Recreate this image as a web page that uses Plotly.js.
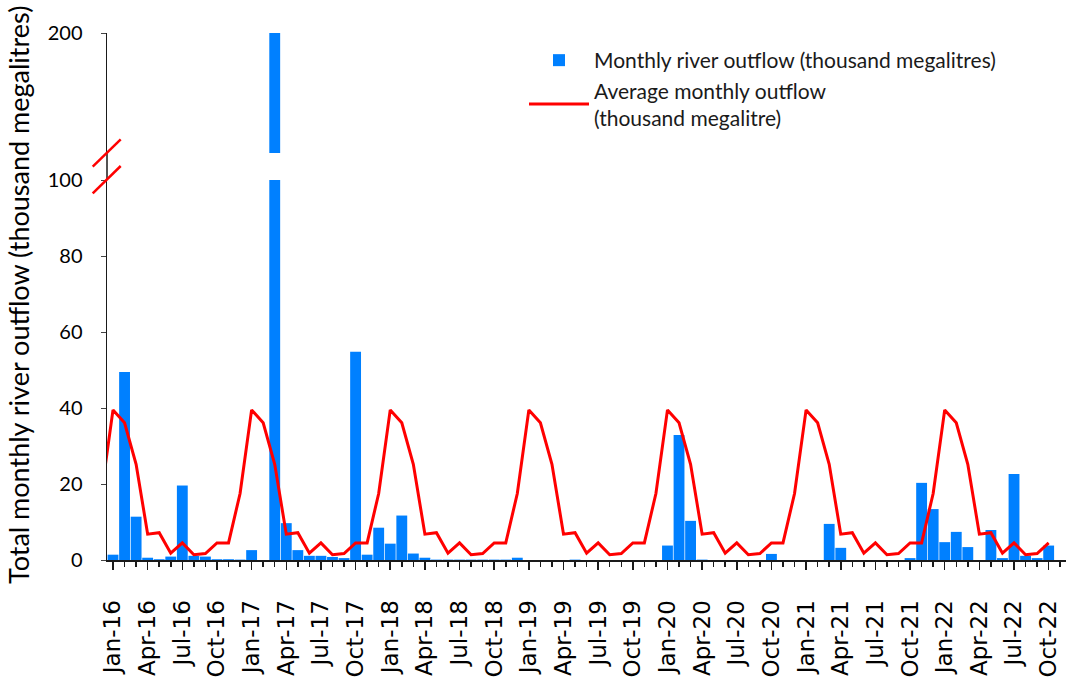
<!DOCTYPE html>
<html>
<head>
<meta charset="utf-8">
<script src="https://cdn.plot.ly/plotly-3.0.1.min.js"></script>
<style>html,body{margin:0;padding:0;background:#fff;}#chart{width:1066px;height:677px;}</style>
</head>
<body>
<div id="chart"></div>
<script>
// Months shown on the x axis (Jan-16 .. Oct-22)
const months = [
  "Jan-16","Feb-16","Mar-16","Apr-16","May-16","Jun-16","Jul-16","Aug-16","Sep-16","Oct-16","Nov-16","Dec-16",
  "Jan-17","Feb-17","Mar-17","Apr-17","May-17","Jun-17","Jul-17","Aug-17","Sep-17","Oct-17","Nov-17","Dec-17",
  "Jan-18","Feb-18","Mar-18","Apr-18","May-18","Jun-18","Jul-18","Aug-18","Sep-18","Oct-18","Nov-18","Dec-18",
  "Jan-19","Feb-19","Mar-19","Apr-19","May-19","Jun-19","Jul-19","Aug-19","Sep-19","Oct-19","Nov-19","Dec-19",
  "Jan-20","Feb-20","Mar-20","Apr-20","May-20","Jun-20","Jul-20","Aug-20","Sep-20","Oct-20","Nov-20","Dec-20",
  "Jan-21","Feb-21","Mar-21","Apr-21","May-21","Jun-21","Jul-21","Aug-21","Sep-21","Oct-21","Nov-21","Dec-21",
  "Jan-22","Feb-22","Mar-22","Apr-22","May-22","Jun-22","Jul-22","Aug-22","Sep-22","Oct-22"
];

// Monthly river outflow (thousand megalitres)
const outflow = [
  1.4, 49.5, 11.4, 0.6, 0.2, 0.9, 19.6, 1.1, 0.9, 0.2, 0.2, 0.1,
  2.6, 0.0, 200, 9.7, 2.6, 1.1, 1.1, 0.8, 0.5, 54.8, 1.4, 8.5,
  4.3, 11.7, 1.7, 0.6, 0.1, 0.1, 0.1, 0.1, 0.1, 0.1, 0.1, 0.6,
  0.0, 0.0, 0.0, 0.0, 0.1, 0.0, 0.0, 0.0, 0.0, 0.0, 0.0, 0.0,
  3.8, 32.9, 10.3, 0.1, 0.0, 0.0, 0.0, 0.0, 0.0, 1.6, 0.0, 0.0,
  0.0, 0.0, 9.5, 3.2, 0.0, 0.0, 0.0, 0.0, 0.0, 0.5, 20.3, 13.4,
  4.7, 7.4, 3.4, 0.0, 7.9, 0.5, 22.6, 1.1, 0.5, 3.8
];

// Average monthly outflow line (starts one month earlier, Dec-15, clipped at the axis)
const avgMonths = ["Dec-15"].concat(months);
const avgOutflow = [
  17.5,
  39.5, 36.1, 25.2, 6.8, 7.2, 1.8, 4.5, 1.4, 1.7, 4.5, 4.5, 17.5,
  39.5, 36.1, 25.2, 6.8, 7.2, 1.8, 4.5, 1.4, 1.7, 4.5, 4.5, 17.5,
  39.5, 36.1, 25.2, 6.8, 7.2, 1.8, 4.5, 1.4, 1.7, 4.5, 4.5, 17.5,
  39.5, 36.1, 25.2, 6.8, 7.2, 1.8, 4.5, 1.4, 1.7, 4.5, 4.5, 17.5,
  39.5, 36.1, 25.2, 6.8, 7.2, 1.8, 4.5, 1.4, 1.7, 4.5, 4.5, 17.5,
  39.5, 36.1, 25.2, 6.8, 7.2, 1.8, 4.5, 1.4, 1.7, 4.5, 4.5, 17.5,
  39.5, 36.1, 25.2, 6.8, 7.2, 1.8, 4.5, 1.4, 1.7, 4.5
];

// Tick labels on the x axis
const tickLabels = ["Jan-16","Apr-16","Jul-16","Oct-16","Jan-17","Apr-17","Jul-17","Oct-17",
  "Jan-18","Apr-18","Jul-18","Oct-18","Jan-19","Apr-19","Jul-19","Oct-19",
  "Jan-20","Apr-20","Jul-20","Oct-20","Jan-21","Apr-21","Jul-21","Oct-21",
  "Jan-22","Apr-22","Jul-22","Oct-22"];
const lowerTicks = [0, 20, 40, 60, 80, 100];
const upperTicks = [200];

const xIdx = months.map((m, i) => i);
const avgIdx = avgMonths.map((m, i) => i - 1);
const tickIdx = tickLabels.map(t => months.indexOf(t));

const BLUE = "#0080FF", RED = "#FF0000";
const W = 1066, H = 677, ML = 107, MR = 0, MT = 33, MB = 117;
const plotW = W - ML - MR, plotH = H - MT - MB;
const yBottomPx = H - MB;
const toPY = py => (yBottomPx - py) / plotH;
const toPX = px => (px - ML) / plotW;

const lowerTop = toPY(180);
const upperBottom = toPY(153);

const traces = [
  {
    type: "bar", x: xIdx, y: outflow, xaxis: "x", yaxis: "y",
    name: "Monthly river outflow (thousand megalitres)",
    marker: {color: BLUE}, hoverinfo: "x+y"
  },
  {
    type: "bar", x: xIdx, y: outflow, xaxis: "x", yaxis: "y2",
    name: "Monthly river outflow (thousand megalitres)", showlegend: false,
    marker: {color: BLUE}
  },
  {
    type: "scatter", mode: "lines", x: avgIdx, y: avgOutflow, xaxis: "x", yaxis: "y",
    name: "Average monthly outflow<br>(thousand megalitre)",
    line: {color: RED, width: 3}
  }
];

const axisFont = {family: "Lato, 'Open Sans', sans-serif", size: 20, color: "#000"};

const layout = {
  width: W, height: H,
  margin: {l: ML, r: MR, t: MT, b: MB, pad: 0},
  paper_bgcolor: "#fff", plot_bgcolor: "#fff",
  bargap: 0.06,
  showlegend: true,
  legend: {
    x: toPX(524), y: toPY(40), xanchor: "left", yanchor: "top",
    bgcolor: "rgba(0,0,0,0)", itemwidth: 60, tracegroupgap: 4,
    font: {family: "Lato, 'Open Sans', sans-serif", size: 21, color: "#1a1a1a"}
  },
  xaxis: {
    range: [-0.52, 82.5], showgrid: false, zeroline: false,
    showline: true, linecolor: "#1a1a1a", linewidth: 2,
    tickmode: "array", tickvals: tickIdx, ticktext: tickLabels,
    ticks: "outside", ticklen: 8, tickwidth: 1.5, tickcolor: "#1a1a1a",
    minor: {ticks: "outside", ticklen: 5, tickwidth: 1.5, tickcolor: "#1a1a1a", dtick: 1, tick0: 0, showgrid: false},
    tickangle: -90, ticklabelstandoff: 21,
    tickfont: {family: "DejaVu Sans, sans-serif", size: 23, color: "#000"}
  },
  yaxis: {
    domain: [0, lowerTop], range: [0, 100], showgrid: false, zeroline: false,
    showline: true, linecolor: "#1a1a1a", linewidth: 1.5,
    tickmode: "array", tickvals: lowerTicks,
    ticks: "outside", ticklen: 5, tickwidth: 1, tickcolor: "#444",
    ticklabelstandoff: 14, tickfont: axisFont
  },
  yaxis2: {
    domain: [upperBottom, 1], range: [200 - (153 - 33) / 3.8, 200], anchor: "x",
    showgrid: false, zeroline: false,
    showline: true, linecolor: "#1a1a1a", linewidth: 1.5,
    tickmode: "array", tickvals: upperTicks,
    ticks: "outside", ticklen: 5, tickwidth: 1, tickcolor: "#444",
    ticklabelstandoff: 14, tickfont: axisFont
  },
  shapes: [
    {type: "line", xref: "paper", yref: "paper", x0: 0, x1: 0, y0: lowerTop, y1: upperBottom,
     line: {color: "#1a1a1a", width: 1.5}},
    {type: "line", xref: "paper", yref: "paper", x0: toPX(92.7), y0: toPY(166.7), x1: toPX(120.7), y1: toPY(139.3),
     line: {color: RED, width: 2.5}},
    {type: "line", xref: "paper", yref: "paper", x0: toPX(92.7), y0: toPY(193.3), x1: toPX(120.7), y1: toPY(166),
     line: {color: RED, width: 2.5}}
  ],
  annotations: [
    {text: "Total monthly river outflow (thousand megalitres)", xref: "paper", yref: "paper",
     x: toPX(18), y: toPY(295), textangle: -90, showarrow: false, xanchor: "center", yanchor: "middle",
     font: {family: "Lato, 'Open Sans', sans-serif", size: 27, color: "#000"}}
  ]
};

Plotly.newPlot("chart", traces, layout, {displayModeBar: false, staticPlot: true});
</script>
</body>
</html>
